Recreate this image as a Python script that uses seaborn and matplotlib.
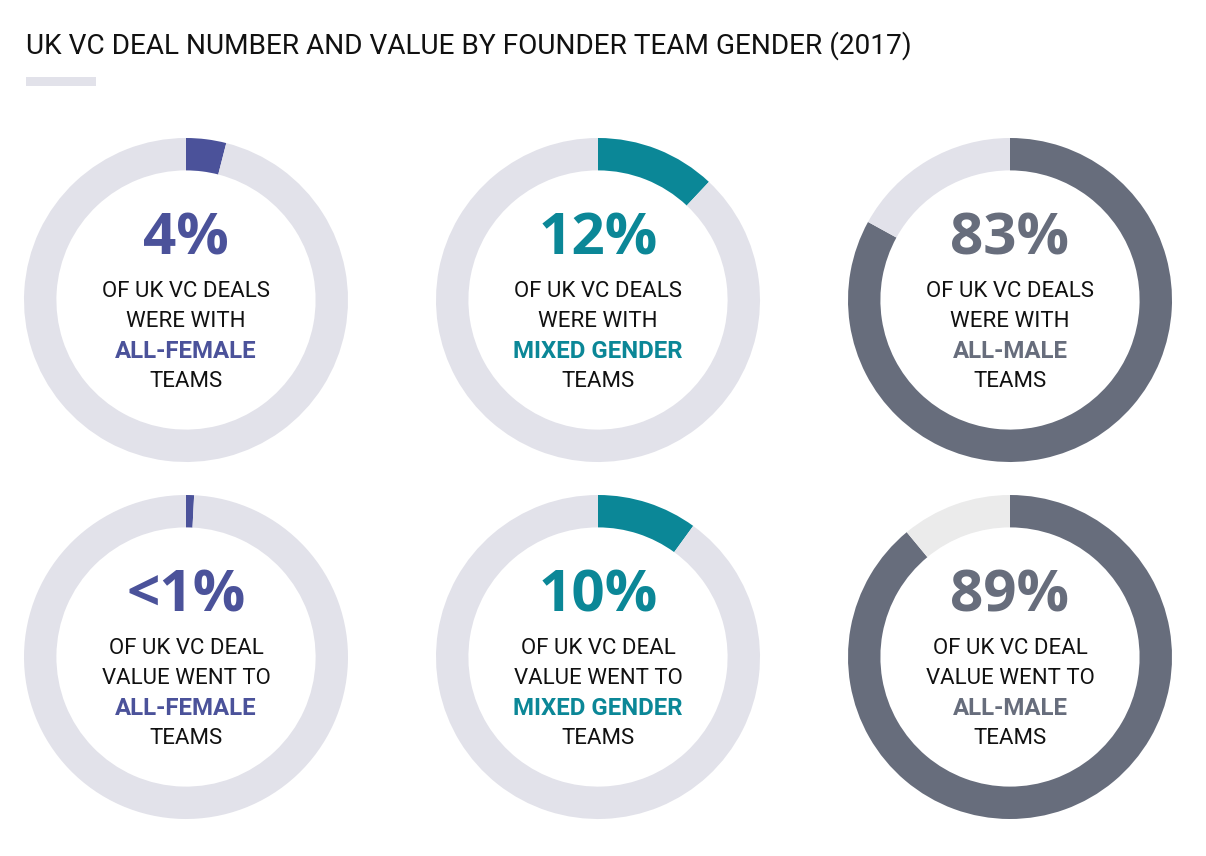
import matplotlib
matplotlib.use("Agg")
import matplotlib.pyplot as plt
import seaborn as sns

# ---- data ----
metrics = ["deals", "deals", "deals", "value", "value", "value"]
groups = ["ALL-FEMALE", "MIXED GENDER", "ALL-MALE", "ALL-FEMALE", "MIXED GENDER", "ALL-MALE"]
shares = [4, 12, 83, 0.8, 10, 89]
share_labels = ["4%", "12%", "83%", "<1%", "10%", "89%"]
line1 = ["OF UK VC DEALS", "OF UK VC DEALS", "OF UK VC DEALS",
         "OF UK VC DEAL", "OF UK VC DEAL", "OF UK VC DEAL"]
line2 = ["WERE WITH", "WERE WITH", "WERE WITH",
         "VALUE WENT TO", "VALUE WENT TO", "VALUE WENT TO"]
line4 = "TEAMS"
title = "UK VC DEAL NUMBER AND VALUE BY FOUNDER TEAM GENDER (2017)"

# ---- styles ----
sns.set_theme(style="white")
plt.rcParams["font.family"] = ["Roboto", "DejaVu Sans"]
group_colors = {"ALL-FEMALE": "#4b529a", "MIXED GENDER": "#0b8797", "ALL-MALE": "#676d7c"}
ring_bg = ["#e2e2ea", "#e2e2ea", "#e2e2ea", "#e2e2ea", "#e2e2ea", "#ebebeb"]

W, H = 1206, 856
fig = plt.figure(figsize=(W / 100, H / 100), dpi=100)
fig.patch.set_facecolor("white")

centers_x = [186, 598, 1010]
centers_y = [300, 657]
R = 162
pad = 1.04

for i in range(6):
    cx = centers_x[i % 3]
    cy = centers_y[i // 3]
    half = R * pad
    ax = fig.add_axes([(cx - half) / W, 1 - (cy + half) / H, 2 * half / W, 2 * half / H])
    col = group_colors[groups[i]]
    ax.pie([shares[i], 100 - shares[i]], colors=[col, ring_bg[i]], startangle=90,
           counterclock=False, radius=1.0,
           wedgeprops=dict(width=0.2, linewidth=0, edgecolor="none", antialiased=True))
    ax.set_xlim(-pad, pad)
    ax.set_ylim(-pad, pad)
    ax.set_aspect("equal")
    ax.axis("off")
    ax.text(0, 0.375, share_labels[i], ha="center", va="center", fontsize=42,
            fontweight="bold", color=col, family=["Open Sans", "DejaVu Sans"])
    ys = [0.05, -0.135, -0.32, -0.505]
    ax.text(0, ys[0], line1[i], ha="center", va="center", fontsize=16, color="#111111")
    ax.text(0, ys[1], line2[i], ha="center", va="center", fontsize=16, color="#111111")
    ax.text(0, ys[2], groups[i], ha="center", va="center", fontsize=17.3,
            fontweight="bold", color=col)
    ax.text(0, ys[3], line4, ha="center", va="center", fontsize=16, color="#111111")

fig.text(26 / W, 1 - 46 / H, title, ha="left", va="center", fontsize=20.2, color="#111111")
bar_ax = fig.add_axes([26 / W, 1 - 86 / H, 70 / W, 9 / H])
bar_ax.set_facecolor("#e2e2ea")
bar_ax.set_xticks([]); bar_ax.set_yticks([])
for s in bar_ax.spines.values():
    s.set_visible(False)

fig.savefig("out.png", dpi=100, facecolor="white")
